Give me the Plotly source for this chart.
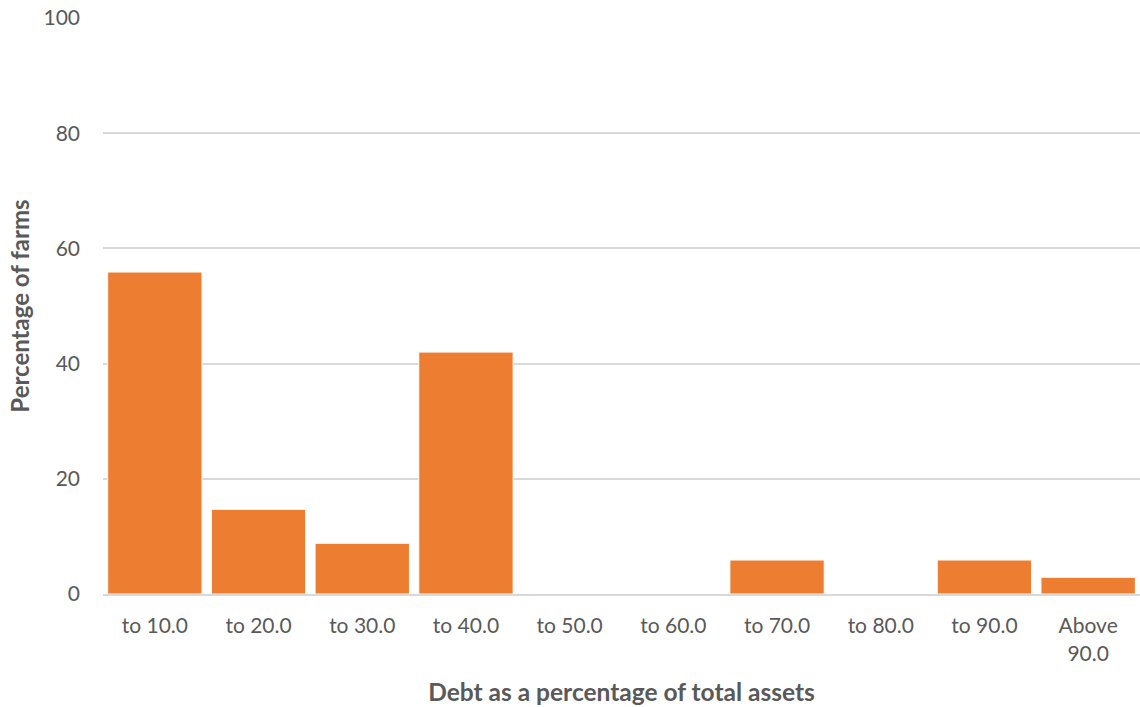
import plotly.graph_objects as go

# Debt-to-asset bands and the share of farms falling in each
categories = ["to 10.0", "to 20.0", "to 30.0", "to 40.0", "to 50.0",
              "to 60.0", "to 70.0", "to 80.0", "to 90.0", "Above<br>90.0"]
farm_share = [55.9, 14.7, 8.8, 42.0, 0, 0, 5.9, 0, 5.9, 2.9]
y_ticks = [0, 20, 40, 60, 80, 100]

FONT = "Lato, 'Open Sans', sans-serif"
TEXT_GREY = "#595959"

fig = go.Figure(
    go.Bar(
        x=categories,
        y=farm_share,
        marker=dict(color="#ED7D31", line=dict(color="white", width=1)),
        hoverinfo="x+y",
    )
)

fig.update_layout(
    width=1140,
    height=707,
    margin=dict(l=103, r=0, t=18, b=113),
    paper_bgcolor="white",
    plot_bgcolor="white",
    bargap=0.09,
    showlegend=False,
    font=dict(family=FONT, color=TEXT_GREY, size=21),
)

fig.update_xaxes(
    type="category",
    showgrid=False,
    showline=True,
    linecolor="#d9d9d9",
    linewidth=2,
    ticks="",
    ticklabelstandoff=12,
    tickfont=dict(size=21, color=TEXT_GREY),
    title=dict(
        text="<b>Debt as a percentage of total assets</b>",
        font=dict(size=24.5, color=TEXT_GREY),
        standoff=20,
    ),
)

fig.update_yaxes(
    range=[0, 100],
    tickvals=y_ticks,
    showgrid=True,
    gridcolor="#d9d9d9",
    gridwidth=2,
    zeroline=False,
    showline=False,
    ticks="",
    ticklabelstandoff=22,
    tickfont=dict(size=21, color=TEXT_GREY),
    title=dict(
        text="<b>Percentage of farms</b>",
        font=dict(size=24, color=TEXT_GREY),
        standoff=7,
    ),
)

fig.write_html("out.html")
